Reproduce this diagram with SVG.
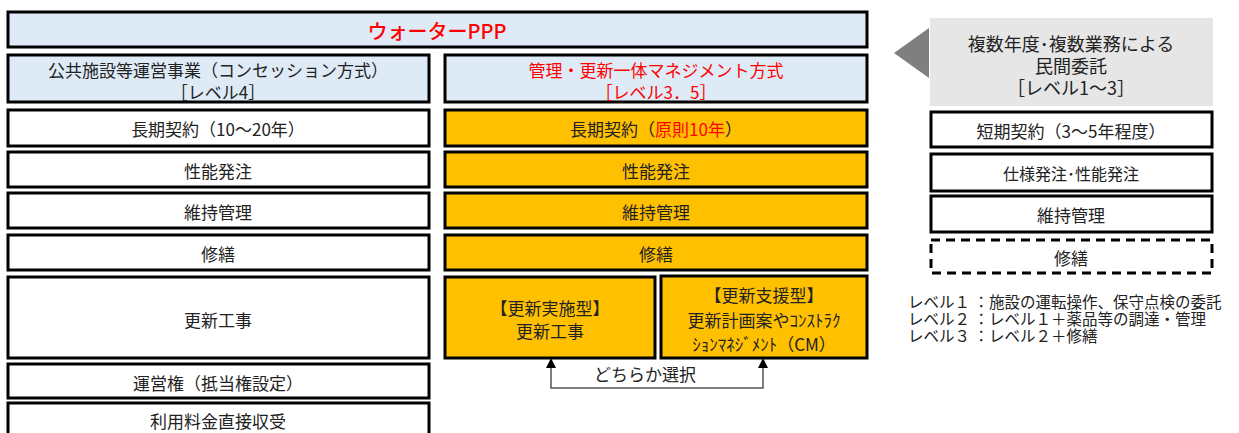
<svg xmlns="http://www.w3.org/2000/svg" width="1239" height="433" viewBox="0 0 1239 433">
<style>
text{font-family:"Noto Sans CJK JP","Noto Sans",sans-serif;font-size:17px;fill:#222;text-anchor:middle;dominant-baseline:central}
.b{stroke:#000;stroke-width:3}
.w{fill:#fff}
.bl{fill:#deebf7}
.o{fill:#ffc000}
.red{fill:#f00}
.lg{text-anchor:start;font-size:15.5px}
.g{font-size:18px}
</style>
<g id="top"><rect class="b bl" x="8" y="12" width="859" height="35"/><text x="437" y="30" class="red" style="font-size:20px;font-weight:500">ウォーターPPP</text></g>

<g id="left">
<g id="l1"><rect class="b bl" x="8" y="55" width="421" height="47"/><text x="218" y="69">公共施設等運営事業（コンセッション方式）</text><text x="218" y="91">［レベル4］</text></g>
<g id="l2"><rect class="b w" x="8" y="110" width="421" height="36"/><text x="218" y="128">長期契約（10～20年）</text></g>
<g id="l3"><rect class="b w" x="8" y="152" width="421" height="35"/><text x="218" y="170">性能発注</text></g>
<g id="l4"><rect class="b w" x="8" y="193" width="421" height="35"/><text x="218" y="211">維持管理</text></g>
<g id="l5"><rect class="b w" x="8" y="235" width="421" height="35"/><text x="218" y="253">修繕</text></g>
<g id="l6"><rect class="b w" x="8" y="277" width="421" height="81"/><text x="218" y="319">更新工事</text></g>
<g id="l7"><rect class="b w" x="8" y="364" width="421" height="34"/><text x="218" y="382">運営権（抵当権設定）</text></g>
<g id="l8"><rect class="b w" x="8" y="403" width="421" height="40"/><text x="218" y="420">利用料金直接収受</text></g>
</g>

<g id="mid">
<g id="m1"><rect class="b bl" x="445" y="55" width="422" height="47"/><text x="656" y="69" class="red">管理・更新一体マネジメント方式</text><text x="656" y="91" class="red">［レベル3．5］</text></g>
<g id="m2"><rect class="b o" x="445" y="110" width="422" height="36"/><text x="656" y="128">長期契約（<tspan class="red">原則10年</tspan>）</text></g>
<g id="m3"><rect class="b o" x="445" y="152" width="422" height="35"/><text x="656" y="170">性能発注</text></g>
<g id="m4"><rect class="b o" x="445" y="193" width="422" height="35"/><text x="656" y="211">維持管理</text></g>
<g id="m5"><rect class="b o" x="445" y="235" width="422" height="35"/><text x="656" y="253">修繕</text></g>
<g id="m6"><rect class="b o" x="445" y="277" width="210" height="81"/><text x="550" y="307">【更新実施型】</text><text x="550" y="330">更新工事</text></g>
<g id="m7"><rect class="b o" x="661" y="276" width="206" height="82"/><text x="764" y="294">【更新支援型】</text><text x="764" y="319">更新計画案やｺﾝｽﾄﾗｸ</text><text x="764" y="343">ｼｮﾝﾏﾈｼﾞﾒﾝﾄ（CM）</text></g>
</g>

<g id="connectors">
<polyline points="551,366 551,388 763,388 763,366" fill="none" stroke="#555" stroke-width="1.5"/>
<polygon points="551,358 546,368 556,368" fill="#000"/>
<polygon points="763,358 758,368 768,368" fill="#000"/>
<text x="645" y="373">どちらか選択</text>
</g>

<g id="right">
<g id="r0"><rect x="930" y="18" width="283" height="88" fill="#e6e6e6"/><polygon points="894,53 929,28 929,78" fill="#7f7f7f"/><text class="g" x="1071" y="43">複数年度･複数業務による</text><text class="g" x="1071" y="65">民間委託</text><text class="g" x="1071" y="87">［レベル1～3］</text></g>
<g id="r1"><rect class="b w" x="931" y="112" width="281" height="35"/><text x="1071" y="130">短期契約（3～5年程度）</text></g>
<g id="r2"><rect class="b w" x="931" y="154" width="281" height="37"/><text x="1071" y="173" style="font-size:16px">仕様発注･性能発注</text></g>
<g id="r3"><rect class="b w" x="931" y="196" width="281" height="36"/><text x="1071" y="214">維持管理</text></g>
<g id="r4"><rect x="931" y="240" width="281" height="33" fill="#fff" stroke="#000" stroke-width="3" stroke-dasharray="9,6"/><text x="1071" y="257">修繕</text></g>
<g id="legend">
<text class="lg" x="908" y="301">レベル１ ：施設の運転操作、保守点検の委託</text>
<text class="lg" x="908" y="318">レベル２ ：レベル１＋薬品等の調達・管理</text>
<text class="lg" x="908" y="335">レベル３ ：レベル２＋修繕</text>
</g>
</g>
</svg>
